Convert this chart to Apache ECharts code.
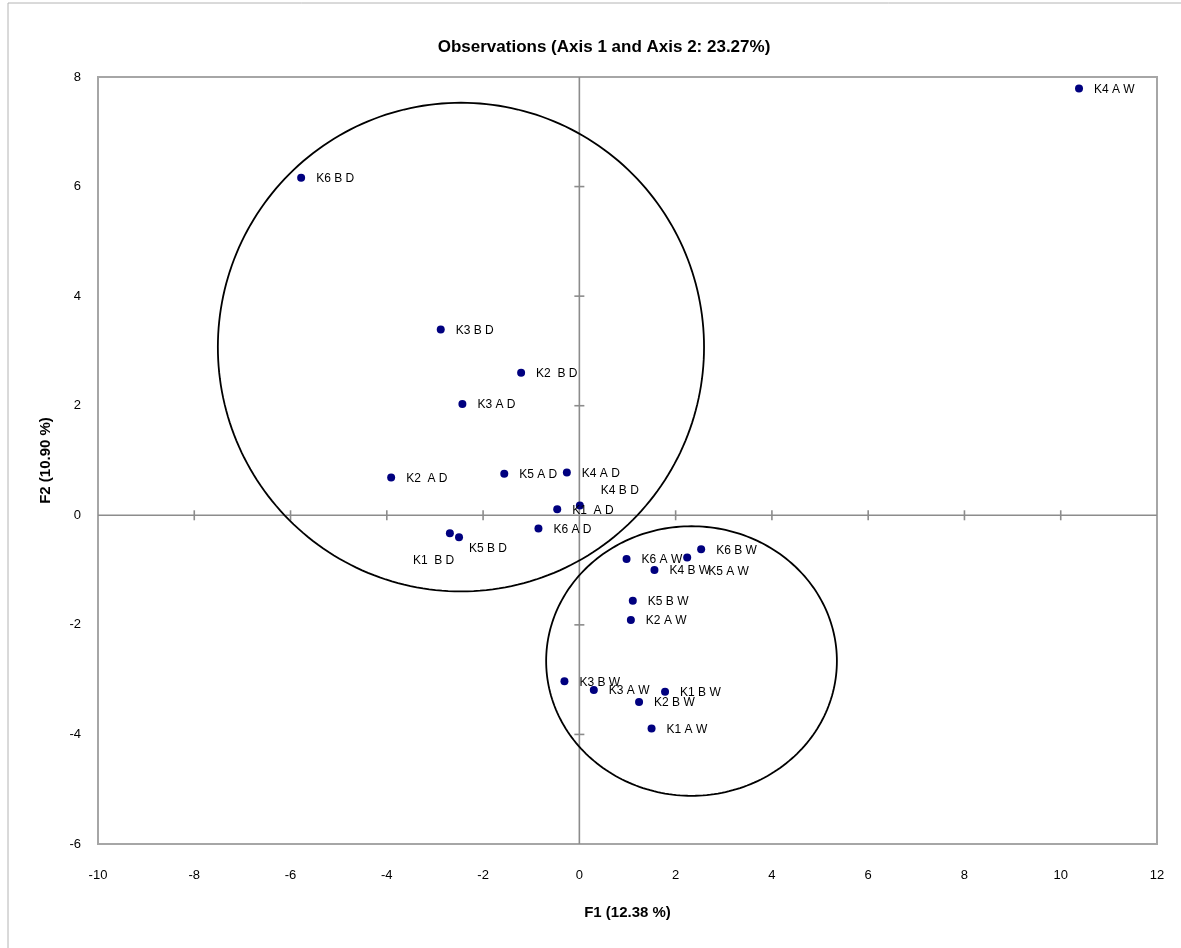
<!DOCTYPE html>
<html>
<head>
<meta charset="utf-8">
<title>Observations (Axis 1 and Axis 2: 23.27%)</title>
<script src="https://cdn.jsdelivr.net/npm/echarts@6.0.0/dist/echarts.min.js"></script>
<style>
  html, body { margin: 0; padding: 0; background: #ffffff; }
  #chart { width: 1181px; height: 948px; }
</style>
</head>
<body>
<div id="chart"></div>
<script>
// Observation names and their factor scores on F1 / F2
const observations = [
  'K4 A W', 'K6 B D', 'K3 B D', 'K2  B D', 'K3 A D', 'K2  A D',
  'K5 A D', 'K4 A D', 'K4 B D', 'K1  A D', 'K6 A D', 'K1  B D',
  'K5 B D', 'K6 A W', 'K5 A W', 'K6 B W', 'K4 B W', 'K5 B W',
  'K2 A W', 'K3 B W', 'K3 A W', 'K1 B W', 'K2 B W', 'K1 A W'
];
const f1Scores = [
  10.38, -5.78, -2.88, -1.21, -2.43, -3.91,
  -1.56, -0.26, 0.01, -0.46, -0.85, -2.69,
  -2.50, 0.98, 2.24, 2.53, 1.56, 1.11,
  1.07, -0.31, 0.30, 1.78, 1.24, 1.50
];
const f2Scores = [
  7.79, 6.16, 3.39, 2.60, 2.03, 0.69,
  0.76, 0.78, 0.18, 0.11, -0.24, -0.33,
  -0.40, -0.80, -0.77, -0.62, -1.00, -1.56,
  -1.91, -3.03, -3.19, -3.22, -3.41, -3.89
];

// Axis ticks
const xTickValues = [-10, -8, -6, -4, -2, 0, 2, 4, 6, 8, 10, 12];
const yTickValues = [-6, -4, -2, 0, 2, 4, 6, 8];

// Group envelopes: centre (F1, F2) and half-widths along each axis
const envelopeCentresF1 = [-2.46, 2.33];
const envelopeCentresF2 = [3.07, -2.66];
const envelopeRadiiF1 = [5.05, 3.02];
const envelopeRadiiF2 = [4.46, 2.46];

// Hand-placed labels (pixel nudges from the default right-hand position)
const labelNudges = {
  'K4 B D': [6, -16],
  'K1  B D': [-52, 26],
  'K5 B D': [-5, 10],
  'K5 A W': [6, 13]
};

const axisGray = '#8c8c8c';
const textFont = "'Liberation Sans', Arial, sans-serif";

const pointData = observations.map((name, i) => ({ name: name, value: [f1Scores[i], f2Scores[i]] }));

const envelopeData = envelopeCentresF1.map((cx, i) => [cx, envelopeCentresF2[i], envelopeRadiiF1[i], envelopeRadiiF2[i]]);

const xMin = xTickValues[0], xMax = xTickValues[xTickValues.length - 1];
const yMin = yTickValues[0], yMax = yTickValues[yTickValues.length - 1];
const xStep = xTickValues[1] - xTickValues[0];
const yStep = yTickValues[1] - yTickValues[0];

// Zero lines through the origin with cross tick marks
function renderZeroCross(params, api) {
  const children = [];
  const lineStyle = { stroke: axisGray, lineWidth: 1.6 };
  const l = api.coord([xMin, 0]), r = api.coord([xMax, 0]);
  const b = api.coord([0, yMin]), t = api.coord([0, yMax]);
  children.push({ type: 'line', shape: { x1: l[0], y1: l[1], x2: r[0], y2: r[1] }, style: lineStyle });
  children.push({ type: 'line', shape: { x1: b[0], y1: b[1], x2: t[0], y2: t[1] }, style: lineStyle });
  xTickValues.forEach(v => {
    if (v === 0 || v === xMin || v === xMax) return;
    const p = api.coord([v, 0]);
    children.push({ type: 'line', shape: { x1: p[0], y1: p[1] - 5, x2: p[0], y2: p[1] + 5 }, style: lineStyle });
  });
  yTickValues.forEach(v => {
    if (v === 0 || v === yMin || v === yMax) return;
    const p = api.coord([0, v]);
    children.push({ type: 'line', shape: { x1: p[0] - 5, y1: p[1], x2: p[0] + 5, y2: p[1] }, style: lineStyle });
  });
  return { type: 'group', children: children };
}

// Envelope ellipse traced in data space
function renderEnvelope(params, api) {
  const cx = api.value(0), cy = api.value(1), rx = api.value(2), ry = api.value(3);
  const pts = [];
  const n = 240;
  for (let k = 0; k < n; k++) {
    const a = (k / n) * Math.PI * 2;
    pts.push(api.coord([cx + rx * Math.cos(a), cy + ry * Math.sin(a)]));
  }
  return {
    type: 'polygon',
    shape: { points: pts },
    style: { fill: 'none', stroke: '#000000', lineWidth: 1.8 }
  };
}

const chart = echarts.init(document.getElementById('chart'), null, { renderer: 'canvas' });

chart.setOption({
  backgroundColor: '#ffffff',
  animation: false,
  title: {
    text: 'Observations (Axis 1 and Axis 2: 23.27%)',
    left: 599,
    textAlign: 'center',
    top: 34,
    textStyle: { fontFamily: textFont, fontWeight: 'bold', fontSize: 17, color: '#000000' }
  },
  graphic: [{
    type: 'rect',
    silent: true,
    shape: { x: 8, y: 3, width: 1300, height: 1100 },
    style: { fill: 'none', stroke: '#b4b4b4', lineWidth: 1 }
  }],
  grid: {
    left: 98, right: 24, top: 77, bottom: 104,
    show: true,
    borderColor: '#a6a6a6',
    borderWidth: 2,
    backgroundColor: 'transparent'
  },
  xAxis: {
    type: 'value',
    min: xMin, max: xMax, interval: xStep,
    position: 'bottom',
    name: 'F1 (12.38 %)',
    nameLocation: 'middle',
    nameGap: 61,
    nameTextStyle: { fontFamily: textFont, fontWeight: 'bold', fontSize: 15, color: '#000000' },
    axisLine: { show: false, onZero: false },
    axisTick: { show: false },
    splitLine: { show: false },
    axisLabel: { margin: 25, fontFamily: textFont, fontSize: 13, color: '#000000' }
  },
  yAxis: {
    type: 'value',
    min: yMin, max: yMax, interval: yStep,
    position: 'left',
    name: 'F2 (10.90 %)',
    nameLocation: 'middle',
    nameGap: 45,
    nameTextStyle: { fontFamily: textFont, fontWeight: 'bold', fontSize: 15, color: '#000000' },
    axisLine: { show: false, onZero: false },
    axisTick: { show: false },
    splitLine: { show: false },
    axisLabel: { margin: 17, fontFamily: textFont, fontSize: 13, color: '#000000' }
  },
  series: [
    {
      type: 'custom',
      name: 'axes',
      silent: true,
      z: 1,
      data: [[0, 0]],
      renderItem: renderZeroCross
    },
    {
      type: 'custom',
      name: 'groups',
      silent: true,
      z: 3,
      data: envelopeData,
      encode: { x: 0, y: 1 },
      renderItem: renderEnvelope
    },
    {
      type: 'scatter',
      name: 'Observations',
      z: 4,
      symbol: 'circle',
      symbolSize: 8,
      itemStyle: { color: '#00007f', opacity: 1 },
      label: {
        show: true,
        position: 'right',
        distance: 11,
        formatter: p => p.name.replace(/ /g, '\u00a0'),
        fontFamily: textFont,
        fontSize: 12,
        color: '#000000',
        opacity: 1
      },
      labelLayout: params => {
        const nudge = labelNudges[observations[params.dataIndex]];
        return nudge ? { dx: nudge[0], dy: nudge[1] + 1, hideOverlap: false } : { dy: 1, hideOverlap: false };
      },
      emphasis: { disabled: true },
      data: pointData
    }
  ]
});
</script>
</body>
</html>
